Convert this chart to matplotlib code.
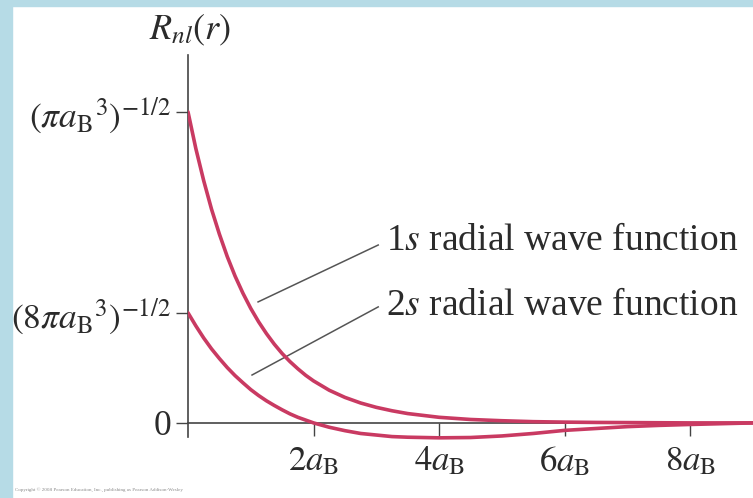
import matplotlib
matplotlib.use("Agg")
import matplotlib.pyplot as plt
from matplotlib.patches import Rectangle

plt.rcParams["font.family"] = ["Liberation Serif", "DejaVu Serif"]
plt.rcParams["mathtext.fontset"] = "stix"

# radial distance in units of a_B
r_vals = [0.0, 0.125, 0.25, 0.375, 0.5, 0.625, 0.75, 0.875, 1.0, 1.125,
          1.25, 1.375, 1.5, 1.625, 1.75, 1.875, 2.0, 2.25, 2.5, 2.75, 3.0,
          3.25, 3.5, 3.75, 4.0, 4.5, 5.0, 5.5, 6.0, 6.5, 7.0, 7.5, 8.0, 9.0]
# R_nl(r) in units of (pi a_B^3)^(-1/2)
r_1s = [1.0, 0.882, 0.779, 0.687, 0.607, 0.535, 0.472, 0.417, 0.368, 0.325,
        0.287, 0.253, 0.223, 0.197, 0.174, 0.153, 0.135, 0.105, 0.082, 0.064,
        0.050, 0.039, 0.030, 0.024, 0.018, 0.011, 0.007, 0.004, 0.0025,
        0.0015, 0.001, 0.0005, 0.0, 0.0]
r_2s = [0.354, 0.312, 0.273, 0.238, 0.207, 0.178, 0.152, 0.129, 0.107, 0.088,
        0.071, 0.056, 0.042, 0.029, 0.018, 0.009, 0.0, -0.014, -0.025, -0.034,
        -0.039, -0.044, -0.046, -0.047, -0.048, -0.047, -0.042, -0.034,
        -0.024, -0.018, -0.012, -0.008, -0.005, 0.0]

x_ticks = [2, 4, 6, 8]
x_labels = [r"$2a_{\mathrm{B}}$", r"$4a_{\mathrm{B}}$",
            r"$6a_{\mathrm{B}}$", r"$8a_{\mathrm{B}}$"]
y_ticks = [0.0, 0.354, 1.0]
y_labels = ["0", r"$(8\pi a_{\mathrm{B}}{}^{3})^{-1/2}$",
            r"$(\pi a_{\mathrm{B}}{}^{3})^{-1/2}$"]

curve_color = "#c93a62"
axis_color = "#444444"
text_color = "#2b2b2b"

fig = plt.figure(figsize=(7.53, 4.98), dpi=100)
fig.patch.set_facecolor("white")

# light blue frame on the left and top
fig.patches.append(Rectangle((0, 0), 12 / 753, 1, transform=fig.transFigure,
                             color="#b6dbe6", zorder=0))
fig.patches.append(Rectangle((0, 1 - 6 / 498), 1, 6 / 498,
                             transform=fig.transFigure, color="#b6dbe6",
                             zorder=0))

ax = fig.add_axes([188 / 753, 44 / 498, 1 - 188 / 753, 399 / 498])
ax.set_facecolor("none")

ax.plot(r_vals, r_1s, color=curve_color, lw=2.6, solid_capstyle="round",
        solid_joinstyle="round", zorder=3)
ax.plot(r_vals, r_2s, color=curve_color, lw=2.6, solid_capstyle="round",
        solid_joinstyle="round", zorder=3)

ax.set_xlim(0, 9.0)
ax.set_ylim(-0.10, 1.183)

for side in ["top", "right"]:
    ax.spines[side].set_visible(False)
ax.spines["left"].set_position(("data", 0))
ax.spines["bottom"].set_position(("data", 0))
ax.spines["left"].set_bounds(-0.045, 1.183)
ax.spines["left"].set_color(axis_color)
ax.spines["bottom"].set_color(axis_color)
ax.spines["left"].set_linewidth(1.2)
ax.spines["bottom"].set_linewidth(1.2)

ax.set_xticks(x_ticks)
ax.set_xticklabels(x_labels)
ax.set_yticks(y_ticks)
ax.set_yticklabels(y_labels)
ax.tick_params(axis="both", direction="out", length=9, width=1.0,
               color=axis_color, labelcolor=text_color)
ax.tick_params(axis="x", pad=7, labelsize=25)
ax.tick_params(axis="y", pad=3, labelsize=25.5)

# leader lines and curve names
ax.plot([1.116, 3.03], [0.389, 0.572], color="#555555", lw=1.1, zorder=2)
ax.plot([1.02, 3.03], [0.154, 0.373], color="#555555", lw=1.1, zorder=2)
ax.text(3.16, 0.585, r"1$s$ radial wave function", fontsize=27,
        color=text_color, va="center", ha="left")
ax.text(3.16, 0.378, r"2$s$ radial wave function", fontsize=27,
        color=text_color, va="center", ha="left")

fig.text(190 / 753, 1 - 30 / 498, r"$R_{nl}(r)$", fontsize=26,
         color=text_color, ha="center", va="center")

fig.text(15 / 753, 1 - 490 / 498,
         "Copyright \u00a9 2008 Pearson Education, Inc., publishing as "
         "Pearson Addison-Wesley", fontsize=3.6, color="#888888",
         ha="left", va="center")

fig.savefig("out.png", dpi=100)
